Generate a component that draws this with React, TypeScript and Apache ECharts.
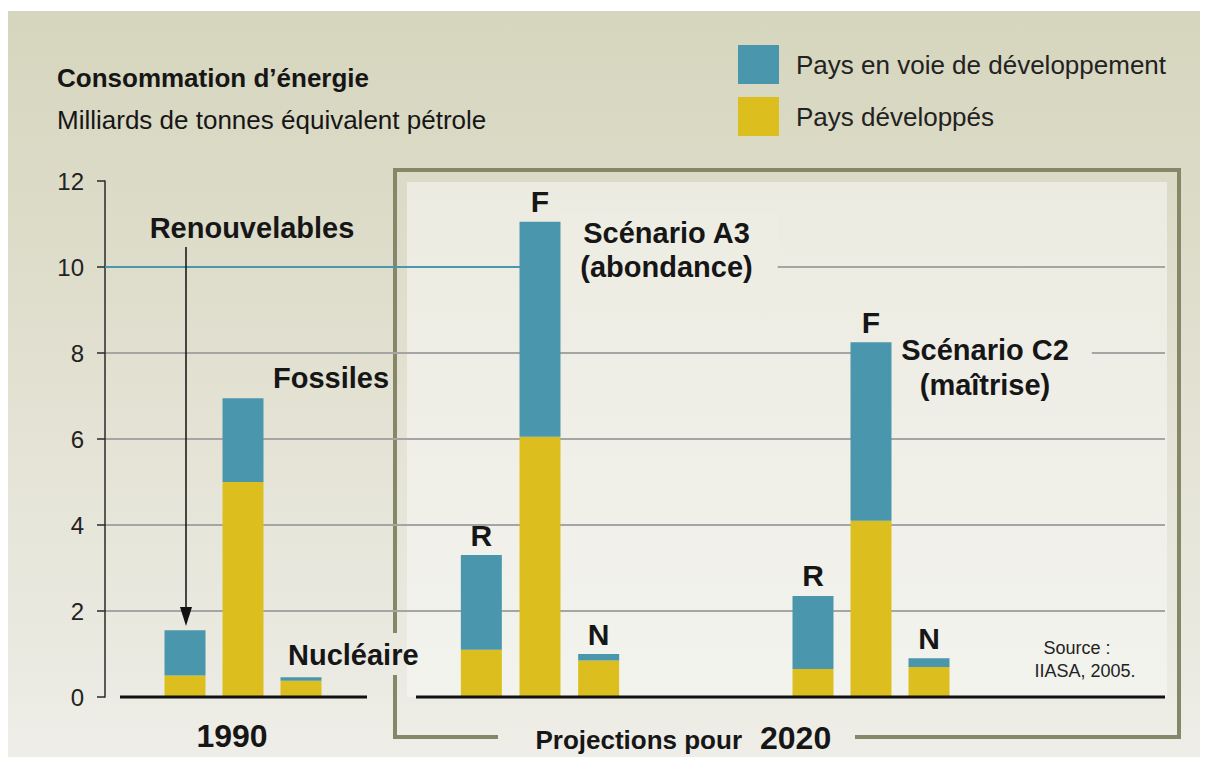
import React, { useEffect, useRef } from 'react';
import * as echarts from 'echarts';

// ---------- data ----------
const legendNames = ['Pays en voie de développement', 'Pays développés'];
const categories1990 = ['Renouvelables', 'Fossiles', 'Nucléaire'];
const scenarioCategories = ['R', 'F', 'N'];
const developed1990 = [0.5, 5.0, 0.38];
const developing1990 = [1.05, 1.95, 0.08];
const developedA3 = [1.1, 6.05, 0.85];
const developingA3 = [2.2, 5.0, 0.15];
const developedC2 = [0.65, 4.1, 0.7];
const developingC2 = [1.7, 4.15, 0.2];
const yMin = 0;
const yMax = 12;
const yInterval = 2;
const highlightValue = 10;
const scenarioTitles = ['Scénario A3\n(abondance)', 'Scénario C2\n(maîtrise)'];
const groupLabels = ['1990', 'Projections pour', '2020'];
const sourceLines = ['Source :', 'IIASA, 2005.'];
const titleText = 'Consommation d\u2019énergie';
const subtitleText = 'Milliards de tonnes équivalent pétrole';

// ---------- style ----------
const FONT = "'Liberation Sans', Arial, Helvetica, sans-serif";
const BLUE = '#4a97ad';
const YELLOW = '#dcbf1e';
const INK = '#161616';
const PLOT_TOP = 181;
const PLOT_BOTTOM = 697;
const H = 757;
const yPx = (v: number) => PLOT_BOTTOM - ((v - yMin) / (yMax - yMin)) * (PLOT_BOTTOM - PLOT_TOP);

export default function App() {
  const ref = useRef<HTMLDivElement>(null);

  useEffect(() => {
    if (!ref.current) return;
    const chart = echarts.init(ref.current, undefined, { renderer: 'svg' });

    const gridDefs = [
      { left: 105, width: 1060 },
      { left: 156, width: 174 },
      { left: 452, width: 176 },
      { left: 784, width: 174 },
    ];
    const grids = gridDefs.map((g) => ({ left: g.left, width: g.width, top: PLOT_TOP, bottom: H - PLOT_BOTTOM, containLabel: false }));

    const catSets = [categories1990, scenarioCategories, scenarioCategories];
    const xAxes: any[] = [
      { type: 'value', gridIndex: 0, min: 0, max: 1, show: false },
      ...catSets.map((c, i) => ({ type: 'category', gridIndex: i + 1, data: c, show: false })),
    ];
    const yAxes: any[] = [
      {
        type: 'value', gridIndex: 0, min: yMin, max: yMax, interval: yInterval,
        axisLine: { show: true, lineStyle: { color: '#2a2a2a', width: 1.5 } },
        axisTick: { show: true, length: 8, lineStyle: { color: '#2a2a2a', width: 1.5 } },
        axisLabel: { fontSize: 24, color: '#222', fontFamily: FONT, margin: 21 },
        splitLine: { show: true, showMinLine: false, showMaxLine: false, lineStyle: { color: '#a5a5a3', width: 2 } },
      },
      ...[1, 2, 3].map((i) => ({ type: 'value', gridIndex: i, min: yMin, max: yMax, show: false, splitLine: { show: false } })),
    ];

    const developedSets = [developed1990, developedA3, developedC2];
    const developingSets = [developing1990, developingA3, developingC2];
    const series: any[] = [];
    for (let i = 0; i < 3; i++) {
      series.push({
        type: 'bar', name: legendNames[1], stack: 'g' + i, xAxisIndex: i + 1, yAxisIndex: i + 1,
        data: developedSets[i], barWidth: 41, itemStyle: { color: YELLOW }, z: 2,
      });
      series.push({
        type: 'bar', name: legendNames[0], stack: 'g' + i, xAxisIndex: i + 1, yAxisIndex: i + 1,
        data: developingSets[i], barWidth: 41, itemStyle: { color: BLUE }, z: 2,
        label: i === 0 ? { show: false } : {
          show: true, position: 'top', distance: 5, formatter: '{b}',
          fontSize: 30, fontWeight: 'bold', color: INK, fontFamily: FONT,
        },
      });
    }

    const textStyle = (o: any) => ({ fontFamily: FONT, fill: INK, ...o });
    const y10 = yPx(highlightValue);

    const graphic: any[] = [
      // frame of the 2020 projections
      { type: 'polyline', z: -1, shape: { points: [[395, 633], [395, 170], [1179, 170], [1179, 737], [855, 737]] }, style: { stroke: '#868769', lineWidth: 4, fill: null } },
      { type: 'polyline', z: -1, shape: { points: [[498, 737], [395, 737], [395, 675]] }, style: { stroke: '#868769', lineWidth: 4, fill: null } },
      // highlighted gridline
      { type: 'line', z: 1, shape: { x1: 105, y1: y10, x2: 521, y2: y10 }, style: { stroke: BLUE, lineWidth: 2 } },
      // baselines
      { type: 'line', z: 5, shape: { x1: 120, y1: PLOT_BOTTOM, x2: 367, y2: PLOT_BOTTOM }, style: { stroke: '#111', lineWidth: 3 } },
      { type: 'line', z: 5, shape: { x1: 416, y1: PLOT_BOTTOM, x2: 1165, y2: PLOT_BOTTOM }, style: { stroke: '#111', lineWidth: 3 } },
      // titles
      { type: 'text', z: 5, x: 57, y: 78, style: textStyle({ text: titleText, fontSize: 26, fontWeight: 'bold', align: 'left', verticalAlign: 'middle' }) },
      { type: 'text', z: 5, x: 57, y: 120, style: textStyle({ text: subtitleText, fontSize: 26, align: 'left', verticalAlign: 'middle' }) },
      // scenario captions (with backgrounds masking the gridlines)
      { type: 'text', z: 1, x: 668.5, y: 250, style: textStyle({ text: scenarioTitles[0], fontSize: 29, fontWeight: 'bold', lineHeight: 34, align: 'center', verticalAlign: 'middle', backgroundColor: '#eeede4', padding: [2, 25, 2, 21] }) },
      { type: 'text', z: 1, x: 990, y: 367, style: textStyle({ text: scenarioTitles[1], fontSize: 29, fontWeight: 'bold', lineHeight: 35, align: 'center', verticalAlign: 'middle', backgroundColor: '#efeee6', padding: [2, 23, 2, 13] }) },
      // 1990 annotations
      { type: 'text', z: 5, x: 252, y: 228, style: textStyle({ text: categories1990[0], fontSize: 29, fontWeight: 'bold', align: 'center', verticalAlign: 'middle' }) },
      { type: 'line', z: 5, shape: { x1: 186, y1: 247, x2: 186, y2: 612 }, style: { stroke: '#111', lineWidth: 1.5 } },
      { type: 'polygon', z: 5, shape: { points: [[180, 607], [192, 607], [186, 626]] }, style: { fill: '#111' } },
      { type: 'text', z: 5, x: 273, y: 378, style: textStyle({ text: categories1990[1], fontSize: 29, fontWeight: 'bold', align: 'left', verticalAlign: 'middle' }) },
      { type: 'text', z: 5, x: 288, y: 655, style: textStyle({ text: categories1990[2], fontSize: 29, fontWeight: 'bold', align: 'left', verticalAlign: 'middle' }) },
      // group labels
      { type: 'text', z: 5, x: 232, y: 736, style: textStyle({ text: groupLabels[0], fontSize: 32, fontWeight: 'bold', align: 'center', verticalAlign: 'middle' }) },
      { type: 'text', z: 5, x: 742, y: 740, style: textStyle({ text: groupLabels[1], fontSize: 26, fontWeight: 'bold', align: 'right', verticalAlign: 'middle' }) },
      { type: 'text', z: 5, x: 760, y: 737.5, style: textStyle({ text: groupLabels[2], fontSize: 32, fontWeight: 'bold', align: 'left', verticalAlign: 'middle' }) },
      // source
      { type: 'text', z: 5, x: 1077, y: 648, style: textStyle({ text: sourceLines[0], fontSize: 18, fill: '#222', align: 'center', verticalAlign: 'middle' }) },
      { type: 'text', z: 5, x: 1085, y: 671, style: textStyle({ text: sourceLines[1], fontSize: 18, fill: '#222', align: 'center', verticalAlign: 'middle' }) },
    ];

    chart.setOption({
      animation: false,
      backgroundColor: 'transparent',
      textStyle: { fontFamily: FONT },
      legend: {
        data: legendNames, orient: 'vertical', left: 738, top: 45, padding: 0,
        itemWidth: 41, itemHeight: 39, itemGap: 13, icon: 'rect', selectedMode: false,
        textStyle: { fontSize: 26, color: '#222', fontFamily: FONT, padding: [8, 0, 0, 12] },
      },
      grid: grids,
      xAxis: xAxes,
      yAxis: yAxes,
      series,
      graphic,
    });

    return () => chart.dispose();
  }, []);

  return (
    <div style={{ position: 'absolute', left: 0, top: 0, width: 1208, height: 757, overflow: 'hidden' }}>
      <div style={{ position: 'absolute', left: 8, top: 11, width: 1192, height: 746, background: 'linear-gradient(#d6d5bd, #eeede7)' }} />
      <div style={{ position: 'absolute', left: 407, top: 182, width: 760, height: 515, background: 'linear-gradient(#ecebe1, #f3f3ee)' }} />
      <div ref={ref} style={{ position: 'absolute', left: 0, top: 0, width: 1208, height: 757 }} />
    </div>
  );
}
